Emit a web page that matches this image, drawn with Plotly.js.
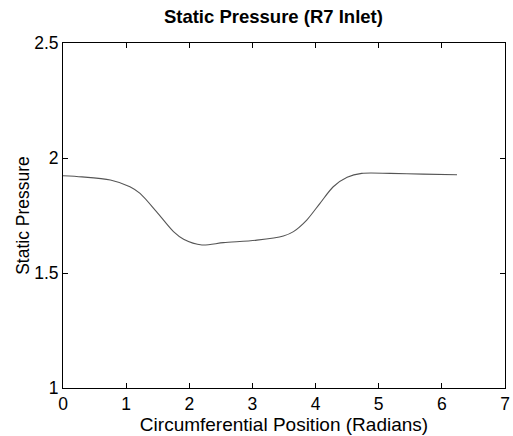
<!DOCTYPE html>
<html>
<head>
<meta charset="utf-8">
<script src="https://cdn.plot.ly/plotly-3.0.1.min.js"></script>
<style>
  html, body { margin: 0; padding: 0; background: #fff; }
  #chart { width: 513px; height: 436px; }
</style>
</head>
<body>
<div id="chart"></div>
<script>
// Circumferential position around the annulus (radians)
const position = [0, 0.3, 0.75, 1.06, 1.22, 1.48, 1.75, 1.91, 2.2, 2.54, 3.07,
                  3.49, 3.65, 3.86, 4.07, 4.28, 4.5, 4.73, 5.18, 5.7, 6.24];
// Static pressure at the R7 inlet
const staticPressure = [1.923, 1.918, 1.904, 1.875, 1.846, 1.767, 1.68, 1.647, 1.622, 1.632, 1.643,
                        1.661, 1.68, 1.73, 1.803, 1.875, 1.916, 1.933, 1.933, 1.930, 1.927];
const xTicks = [0, 1, 2, 3, 4, 5, 6, 7];
const yTicks = [1, 1.5, 2, 2.5];

const font = 'Liberation Sans, Arial, Helvetica, sans-serif';

const trace = {
  x: position,
  y: staticPressure,
  type: 'scatter',
  mode: 'lines',
  line: { color: '#555', width: 1.1, shape: 'spline', smoothing: 0.8 },
  hoverinfo: 'skip'
};

const axisCommon = {
  showline: true,
  linecolor: '#000',
  linewidth: 1,
  mirror: 'ticks',
  ticks: 'inside',
  ticklen: 5,
  tickcolor: '#000',
  showgrid: false,
  zeroline: false,
  tickfont: { family: font, size: 17.5, color: '#000' },
  automargin: false
};

const layout = {
  width: 513,
  height: 436,
  margin: { l: 63, r: 8, t: 43, b: 48 },
  paper_bgcolor: '#fff',
  plot_bgcolor: '#fff',
  showlegend: false,
  title: {
    text: '<b>Static Pressure (R7 Inlet)</b>',
    font: { family: font, size: 18.5, color: '#000' },
    x: 0.533, xanchor: 'center',
    y: 0.962, yanchor: 'middle'
  },
  xaxis: Object.assign({}, axisCommon, {
    range: [0, 7],
    tickvals: xTicks,
    ticktext: xTicks.map(String),
    title: { text: 'Circumferential Position (Radians)', font: { family: font, size: 19, color: '#000' }, standoff: 0 }
  }),
  yaxis: Object.assign({}, axisCommon, {
    range: [1, 2.5],
    tickvals: yTicks,
    ticktext: yTicks.map(String),
    title: { text: 'Static Pressure', font: { family: font, size: 17.5, color: '#000' }, standoff: 0 }
  })
};

Plotly.newPlot('chart', [trace], layout, { staticPlot: true, displayModeBar: false });
</script>
</body>
</html>
